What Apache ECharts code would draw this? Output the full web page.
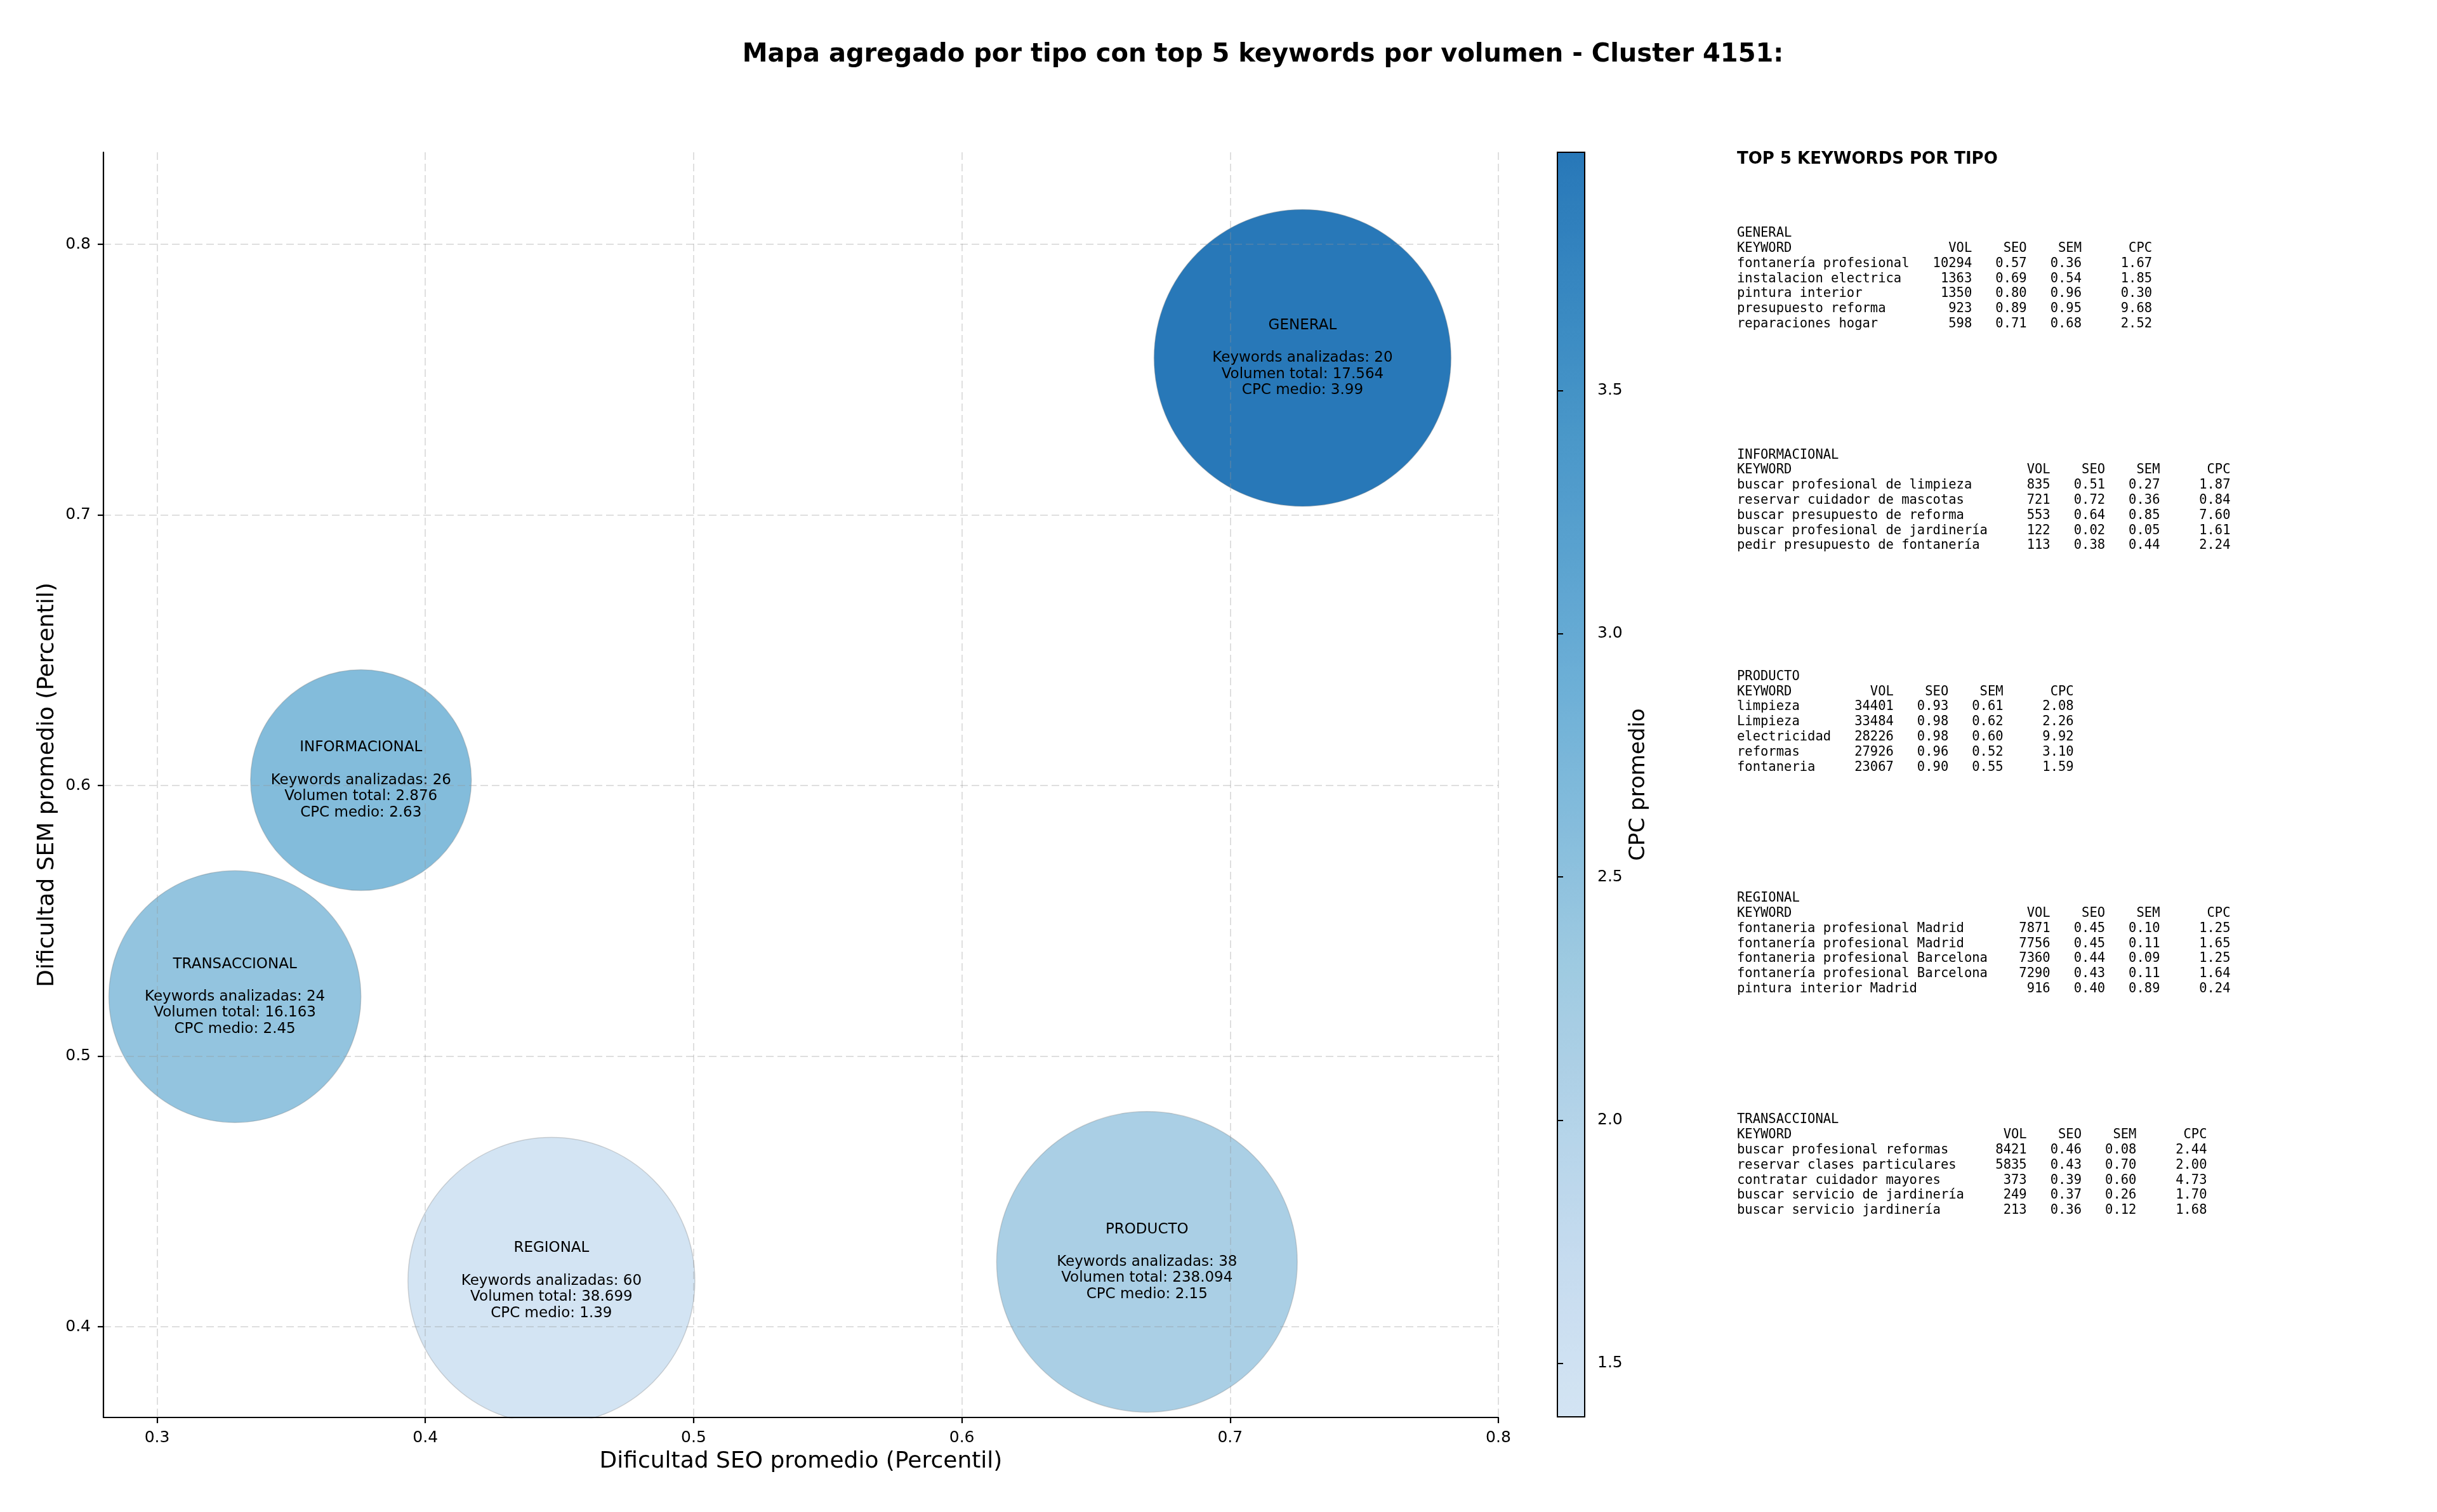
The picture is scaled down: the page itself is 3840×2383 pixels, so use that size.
<!DOCTYPE html>
<html>
<head>
<meta charset="utf-8">
<script src="https://cdn.jsdelivr.net/npm/echarts@6/dist/echarts.min.js"></script>
<style>
  html, body { margin: 0; padding: 0; background: #fff; }
  #chart { width: 3840px; height: 2383px; }
</style>
</head>
<body>
<div id="chart"></div>
<script>
// tipos de keyword y sus medias
const tipos = ['GENERAL', 'INFORMACIONAL', 'PRODUCTO', 'REGIONAL', 'TRANSACCIONAL']
const seoMedio = [0.727, 0.376, 0.669, 0.447, 0.329]
const semMedio = [0.758, 0.602, 0.424, 0.417, 0.522]
const cpcMedio = [3.99, 2.63, 2.15, 1.39, 2.45]
const numKeywords = [20, 26, 38, 60, 24]
const volumenTotal = [17564, 2876, 238094, 38699, 16163]
// tamaño del marcador (s de matplotlib, pt²)
const areaBurbuja = [19700, 10900, 20200, 18400, 14200]

const xTicks = [0.3, 0.4, 0.5, 0.6, 0.7, 0.8]
const yTicks = [0.4, 0.5, 0.6, 0.7, 0.8]
const cpcTicks = [1.5, 2.0, 2.5, 3.0, 3.5]

// top 5 keywords por tipo: [keyword, vol, seo, sem, cpc]
const topGeneral = [
  ['fontanería profesional', 10294, 0.57, 0.36, 1.67],
  ['instalacion electrica', 1363, 0.69, 0.54, 1.85],
  ['pintura interior', 1350, 0.80, 0.96, 0.30],
  ['presupuesto reforma', 923, 0.89, 0.95, 9.68],
  ['reparaciones hogar', 598, 0.71, 0.68, 2.52],
]
const topInformacional = [
  ['buscar profesional de limpieza', 835, 0.51, 0.27, 1.87],
  ['reservar cuidador de mascotas', 721, 0.72, 0.36, 0.84],
  ['buscar presupuesto de reforma', 553, 0.64, 0.85, 7.60],
  ['buscar profesional de jardinería', 122, 0.02, 0.05, 1.61],
  ['pedir presupuesto de fontanería', 113, 0.38, 0.44, 2.24],
]
const topProducto = [
  ['limpieza', 34401, 0.93, 0.61, 2.08],
  ['Limpieza', 33484, 0.98, 0.62, 2.26],
  ['electricidad', 28226, 0.98, 0.60, 9.92],
  ['reformas', 27926, 0.96, 0.52, 3.10],
  ['fontaneria', 23067, 0.90, 0.55, 1.59],
]
const topRegional = [
  ['fontaneria profesional Madrid', 7871, 0.45, 0.10, 1.25],
  ['fontanería profesional Madrid', 7756, 0.45, 0.11, 1.65],
  ['fontaneria profesional Barcelona', 7360, 0.44, 0.09, 1.25],
  ['fontanería profesional Barcelona', 7290, 0.43, 0.11, 1.64],
  ['pintura interior Madrid', 916, 0.40, 0.89, 0.24],
]
const topTransaccional = [
  ['buscar profesional reformas', 8421, 0.46, 0.08, 2.44],
  ['reservar clases particulares', 5835, 0.43, 0.70, 2.00],
  ['contratar cuidador mayores', 373, 0.39, 0.60, 4.73],
  ['buscar servicio de jardinería', 249, 0.37, 0.26, 1.70],
  ['buscar servicio jardinería', 213, 0.36, 0.12, 1.68],
]
const bloques = [topGeneral, topInformacional, topProducto, topRegional, topTransaccional]

// colormap Blues recortado
const blues = ['#f7fbff', '#deebf7', '#c6dbef', '#9ecae1', '#6baed6', '#4292c6', '#2171b5', '#08519c', '#08306b']
function hex2rgb(h) {
  return [1, 3, 5].map(i => parseInt(h.slice(i, i + 2), 16))
}
function bluesAt(t) {
  const p = t * 8
  const i = Math.min(7, Math.floor(p))
  const f = p - i
  const a = hex2rgb(blues[i])
  const b = hex2rgb(blues[i + 1])
  const c = a.map((v, k) => Math.round(v + (b[k] - v) * f))
  return `rgb(${c[0]},${c[1]},${c[2]})`
}
const rampa = Array.from({ length: 15 }, (_, k) => bluesAt(0.18 + (k / 14) * 0.545))

const miles = v => String(v).replace(/\B(?=(\d{3})+(?!\d))/g, '.')

function tablaTexto(tipo, filas) {
  const L = Math.max(...filas.map(f => f[0].length)) + 3
  const lineas = [tipo]
  lineas.push('KEYWORD'.padEnd(L) + 'VOL'.padStart(5) + 'SEO'.padStart(7) + 'SEM'.padStart(7) + 'CPC'.padStart(9))
  filas.forEach(f => {
    lineas.push(
      f[0].padEnd(L) + String(f[1]).padStart(5) + f[2].toFixed(2).padStart(7) +
      f[3].toFixed(2).padStart(7) + f[4].toFixed(2).padStart(9)
    )
  })
  return lineas.join('\n')
}

const cpcMin = Math.min(...cpcMedio)
const cpcMax = Math.max(...cpcMedio)
const FONT = 'DejaVu Sans'
const MONO = 'DejaVu Sans Mono'

const chart = echarts.init(document.getElementById('chart'))

const graficos = [
  // tapa lo que sobresale del eje x (matplotlib recorta los marcadores)
  {
    type: 'rect',
    shape: { x: 150, y: 2235.5, width: 2230, height: 20 },
    style: { fill: '#fff' },
    z: 3,
  },
  {
    type: 'rect',
    shape: { x: 2454, y: 240, width: 43, height: 1993 },
    style: { fill: 'none', stroke: '#000', lineWidth: 2 },
    z: 100,
  },
  {
    type: 'text',
    x: 2737,
    y: 238,
    style: { text: 'TOP 5 KEYWORDS POR TIPO', font: `bold 26px "${FONT}"`, fill: '#000' },
  },
]
bloques.forEach((filas, i) => {
  graficos.push({
    type: 'text',
    x: 2737,
    y: 356 + i * 349.3,
    style: {
      text: tablaTexto(tipos[i], filas),
      font: `20.5px "${MONO}"`,
      lineHeight: 23.8,
      fill: '#000',
    },
  })
})

chart.setOption({
  animation: false,
  backgroundColor: '#fff',
  title: {
    text: 'Mapa agregado por tipo con top 5 keywords por volumen - Cluster 4151:',
    left: 1985,
    top: 62,
    textAlign: 'center',
    textStyle: { fontFamily: FONT, fontSize: 40, fontWeight: 'bold', color: '#000' },
  },
  grid: [
    { left: 163, top: 240, width: 2198, height: 1994 },
    { left: 2454, top: 240, width: 43, height: 1993 },
  ],
  xAxis: [
    {
      type: 'value',
      gridIndex: 0,
      min: 0.28,
      max: 0.8,
      z: 5,
      name: 'Dificultad SEO promedio (Percentil)',
      nameLocation: 'middle',
      nameGap: 52,
      nameTextStyle: { fontFamily: FONT, fontSize: 36, color: '#000' },
      axisLine: { show: true, onZero: false, lineStyle: { color: '#000', width: 2.2 } },
      axisTick: { show: true, length: 9, customValues: xTicks, lineStyle: { color: '#000', width: 2.2 } },
      axisLabel: {
        customValues: xTicks,
        formatter: v => v.toFixed(1),
        fontFamily: FONT, fontSize: 25, color: '#000', margin: 20,
      },
      splitLine: { show: true, lineStyle: { color: 'rgba(150,150,150,0.3)', width: 2, type: [12, 6] } },
    },
    { type: 'value', gridIndex: 1, min: 0, max: 1, show: false },
  ],
  yAxis: [
    {
      type: 'value',
      gridIndex: 0,
      min: 0.3665,
      max: 0.834,
      z: 5,
      name: 'Dificultad SEM promedio (Percentil)',
      nameLocation: 'middle',
      nameGap: 70,
      nameTextStyle: { fontFamily: FONT, fontSize: 36, color: '#000' },
      axisLine: { show: true, onZero: false, lineStyle: { color: '#000', width: 2.2 } },
      axisTick: { show: true, length: 9, customValues: yTicks, lineStyle: { color: '#000', width: 2.2 } },
      axisLabel: {
        customValues: yTicks,
        formatter: v => v.toFixed(1),
        fontFamily: FONT, fontSize: 25, color: '#000', margin: 20,
      },
      splitLine: { show: true, lineStyle: { color: 'rgba(150,150,150,0.3)', width: 2, type: [12, 6] } },
    },
    {
      type: 'value',
      gridIndex: 1,
      position: 'right',
      min: cpcMin,
      max: cpcMax,
      z: 110,
      name: 'CPC promedio',
      nameLocation: 'middle',
      nameRotate: 90,
      nameGap: 68,
      nameTextStyle: { fontFamily: FONT, fontSize: 34, color: '#000' },
      axisLine: { show: false },
      axisTick: { show: true, length: 9, customValues: cpcTicks, lineStyle: { color: '#000', width: 2 } },
      axisLabel: {
        customValues: cpcTicks,
        formatter: v => v.toFixed(1),
        fontFamily: FONT, fontSize: 25, color: '#000', margin: 20,
      },
      splitLine: { show: false },
    },
  ],
  visualMap: {
    type: 'continuous',
    seriesIndex: 0,
    dimension: 2,
    min: cpcMin,
    max: cpcMax,
    calculable: false,
    hoverLink: false,
    orient: 'vertical',
    left: 2454,
    top: 240,
    padding: 0,
    itemWidth: 43,
    itemHeight: 1993,
    inRange: { color: rampa },
  },
  graphic: graficos,
  series: [
    {
      type: 'scatter',
      xAxisIndex: 0,
      yAxisIndex: 0,
      clip: true,
      data: tipos.map((t, i) => ({
        name: t,
        value: [seoMedio[i], semMedio[i], cpcMedio[i], areaBurbuja[i]],
      })),
      symbol: 'circle',
      symbolSize: v => Math.sqrt(v[3]) * 240 / 72,
      itemStyle: { opacity: 1, borderColor: 'rgba(120,120,120,0.3)', borderWidth: 1.5 },
      label: {
        show: true,
        position: 'inside',
        fontFamily: FONT,
        fontSize: 23,
        lineHeight: 25.6,
        color: '#000',
        formatter: p => {
          const i = p.dataIndex
          return `${tipos[i]}\n\nKeywords analizadas: ${numKeywords[i]}\n` +
            `Volumen total: ${miles(volumenTotal[i])}\nCPC medio: ${cpcMedio[i].toFixed(2)}`
        },
      },
      emphasis: { disabled: true },
    },
  ],
})
</script>
</body>
</html>
